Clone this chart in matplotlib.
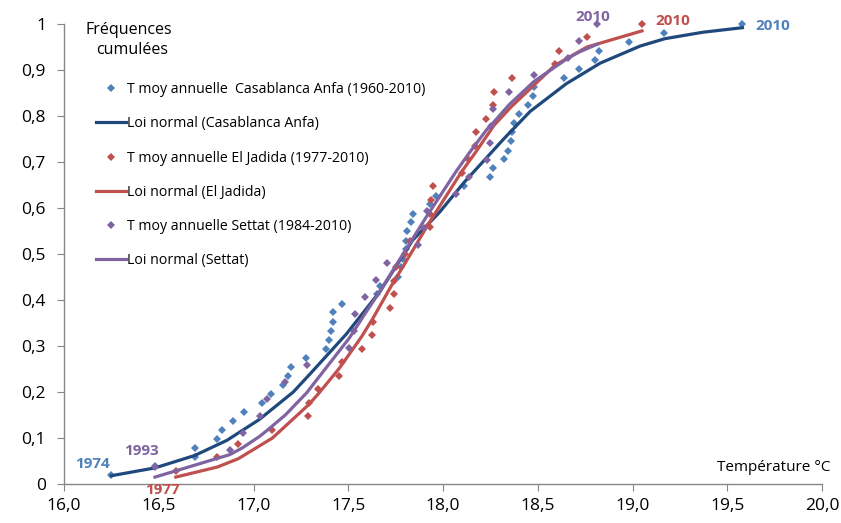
import matplotlib
matplotlib.use("Agg")
import matplotlib.pyplot as plt
from matplotlib.lines import Line2D
from matplotlib.ticker import FixedLocator

plt.rcParams['font.family'] = ['Open Sans', 'DejaVu Sans']

# ---- data ----
casa_x = [16.25, 16.48, 16.69, 16.69, 16.81, 16.835, 16.89, 16.95, 17.046, 17.09,
          17.157, 17.18, 17.198, 17.277, 17.383, 17.40, 17.407, 17.418, 17.42, 17.465,
          17.653, 17.67, 17.76, 17.78, 17.79, 17.805, 17.805, 17.81, 17.83, 17.84,
          17.93, 17.963, 18.11, 18.248, 18.262, 18.32, 18.345, 18.36, 18.362, 18.375,
          18.40, 18.45, 18.477, 18.48, 18.638, 18.72, 18.80, 18.823, 18.98, 19.168,
          19.576]
casa_y = [0.020, 0.039, 0.059, 0.078, 0.098, 0.118, 0.137, 0.157, 0.176, 0.196,
          0.216, 0.235, 0.255, 0.275, 0.294, 0.314, 0.333, 0.353, 0.373, 0.392,
          0.412, 0.431, 0.451, 0.471, 0.490, 0.510, 0.529, 0.549, 0.569, 0.588,
          0.608, 0.627, 0.647, 0.667, 0.686, 0.706, 0.725, 0.745, 0.765, 0.784,
          0.804, 0.824, 0.843, 0.863, 0.882, 0.902, 0.922, 0.941, 0.961, 0.980,
          1.000]

jad_x = [16.59, 16.81, 16.92, 17.10, 17.286, 17.295, 17.34, 17.45, 17.465, 17.57,
         17.624, 17.632, 17.72, 17.74, 17.74, 17.752, 17.80, 17.826, 17.93, 17.932,
         17.937, 17.945, 18.099, 18.134, 18.169, 18.174, 18.227, 18.262, 18.27, 18.362,
         18.59, 18.614, 18.76, 19.05]
jad_y = [0.029, 0.059, 0.088, 0.118, 0.147, 0.176, 0.206, 0.235, 0.265, 0.294,
         0.324, 0.353, 0.382, 0.412, 0.441, 0.471, 0.500, 0.529, 0.559, 0.588,
         0.618, 0.647, 0.676, 0.706, 0.735, 0.765, 0.794, 0.824, 0.853, 0.882,
         0.912, 0.941, 0.971, 1.000]

set_x = [16.48, 16.876, 16.943, 17.034, 17.07, 17.168, 17.28, 17.505, 17.53, 17.535,
         17.588, 17.645, 17.706, 17.87, 17.90, 17.914, 18.07, 18.139, 18.23, 18.248,
         18.255, 18.262, 18.35, 18.48, 18.66, 18.718, 18.814]
set_y = [0.037, 0.074, 0.111, 0.148, 0.185, 0.222, 0.259, 0.296, 0.333, 0.370,
         0.407, 0.444, 0.481, 0.519, 0.556, 0.593, 0.630, 0.667, 0.704, 0.741,
         0.778, 0.815, 0.852, 0.889, 0.926, 0.963, 1.000]

# normal-law curves
casa_lx = [16.25, 16.48, 16.69, 16.86, 17.03, 17.21, 17.30, 17.49, 17.67, 17.84,
           17.98, 18.11, 18.32, 18.46, 18.65, 18.83, 19.04, 19.17, 19.37, 19.58]
casa_ly = [0.018, 0.035, 0.062, 0.095, 0.14, 0.20, 0.24, 0.326, 0.42, 0.53,
           0.59, 0.655, 0.75, 0.81, 0.87, 0.915, 0.952, 0.968, 0.982, 0.992]

jad_lx = [16.59, 16.81, 16.92, 17.10, 17.29, 17.34, 17.45, 17.57, 17.63, 17.74,
          17.80, 17.93, 18.10, 18.17, 18.27, 18.36, 18.59, 18.76, 19.05]
jad_ly = [0.015, 0.037, 0.055, 0.10, 0.172, 0.195, 0.25, 0.32, 0.36, 0.44,
          0.48, 0.57, 0.68, 0.72, 0.78, 0.82, 0.91, 0.95, 0.985]

set_lx = [16.48, 16.876, 16.943, 17.034, 17.07, 17.168, 17.28, 17.505, 17.535, 17.588,
          17.645, 17.706, 17.87, 17.914, 18.07, 18.139, 18.23, 18.262, 18.35, 18.48,
          18.66, 18.718, 18.814]
set_ly = [0.015, 0.064, 0.079, 0.104, 0.116, 0.15, 0.198, 0.317, 0.336, 0.37,
          0.405, 0.445, 0.553, 0.582, 0.68, 0.72, 0.77, 0.784, 0.825, 0.875,
          0.926, 0.939, 0.956]

labels = ["T moy annuelle  Casablanca Anfa (1960-2010)",
          "Loi normal (Casablanca Anfa)",
          "T moy annuelle El Jadida (1977-2010)",
          "Loi normal (El Jadida)",
          "T moy annuelle Settat (1984-2010)",
          "Loi normal (Settat)"]

x_ticks = [16.0, 16.5, 17.0, 17.5, 18.0, 18.5, 19.0, 19.5, 20.0]
x_labels = ["16,0", "16,5", "17,0", "17,5", "18,0", "18,5", "19,0", "19,5", "20,0"]
y_ticks = [0, 0.1, 0.2, 0.3, 0.4, 0.5, 0.6, 0.7, 0.8, 0.9, 1.0]
y_labels = ["0", "0,1", "0,2", "0,3", "0,4", "0,5", "0,6", "0,7", "0,8", "0,9", "1"]

c_blue_pt = "#4F81BD"
c_blue_ln = "#1F497D"
c_red = "#C0504D"
c_purple = "#8064A2"

fig = plt.figure(figsize=(8.41, 5.23), dpi=100)
ax = fig.add_axes([64/841, 1-484/523, 758/841, 460/523])

ms = 4.5
lw = 2.3
ax.plot(casa_x, casa_y, 'D', color=c_blue_pt, ms=ms, mew=0, zorder=3, clip_on=False)
ax.plot(casa_lx, casa_ly, '-', color=c_blue_ln, lw=lw, zorder=3)
ax.plot(jad_x, jad_y, 'D', color=c_red, ms=ms, mew=0, zorder=3, clip_on=False)
ax.plot(jad_lx, jad_ly, '-', color=c_red, lw=lw, zorder=3)
ax.plot(set_x, set_y, 'D', color=c_purple, ms=ms, mew=0, zorder=3, clip_on=False)
ax.plot(set_lx, set_ly, '-', color=c_purple, lw=lw, zorder=3)

ax.set_xlim(16.0, 20.0)
ax.set_ylim(0, 1.0)
ax.xaxis.set_major_locator(FixedLocator(x_ticks))
ax.set_xticklabels(x_labels)
ax.yaxis.set_major_locator(FixedLocator(y_ticks))
ax.set_yticklabels(y_labels)
for s in ['top', 'right']:
    ax.spines[s].set_visible(False)
for s in ['left', 'bottom']:
    ax.spines[s].set_color('#868686')
    ax.spines[s].set_linewidth(1.0)
ax.tick_params(axis='both', direction='out', length=5, color='#868686',
               labelsize=12.5, labelcolor='black')
ax.tick_params(axis='y', pad=8)
ax.tick_params(axis='x', pad=5)

# legend
handles = [
    Line2D([], [], ls='none', marker='D', color=c_blue_pt, ms=ms, mew=0),
    Line2D([], [], ls='-', color=c_blue_ln, lw=lw),
    Line2D([], [], ls='none', marker='D', color=c_red, ms=ms, mew=0),
    Line2D([], [], ls='-', color=c_red, lw=lw),
    Line2D([], [], ls='none', marker='D', color=c_purple, ms=ms, mew=0),
    Line2D([], [], ls='-', color=c_purple, lw=lw),
]
leg = fig.legend(handles, labels, loc='upper left', bbox_to_anchor=(96/841, 1-82/523),
                 frameon=False, fontsize=10.2, handlelength=2.1, handletextpad=0.08,
                 labelspacing=1.36, borderpad=0, borderaxespad=0)

# titles
ax.text(0.028, 0.988, "Fréquences", transform=ax.transAxes, fontsize=11.5,
        ha='left', va='center')
ax.text(0.043, 0.944, "cumulées", transform=ax.transAxes, fontsize=11.5,
        ha='left', va='center')
ax.text(1.011, 0.035, "Température °C", transform=ax.transAxes, fontsize=11,
        ha='right', va='center', clip_on=False)

# year annotations
ann = [("1974", 16.15, 0.043, c_blue_pt), ("1993", 16.41, 0.072, c_purple),
       ("1977", 16.52, -0.012, c_red), ("2010", 18.79, 1.016, c_purple),
       ("2010", 19.21, 1.006, c_red), ("2010", 19.74, 0.996, c_blue_pt)]
for t, x, y, c in ann:
    ax.text(x, y, t, color=c, fontsize=11, fontweight='bold', ha='center',
            va='center', clip_on=False)

fig.savefig("out.png", dpi=100)
